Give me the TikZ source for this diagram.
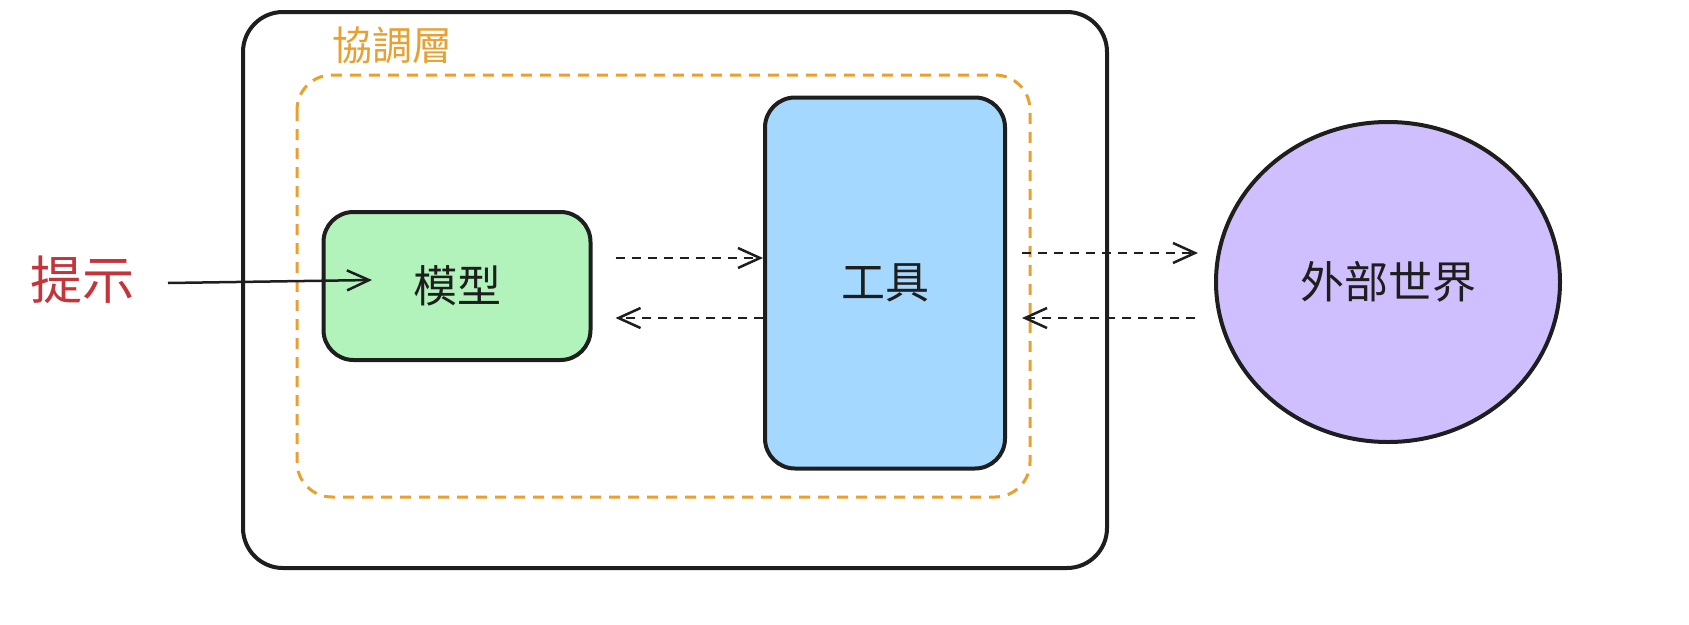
\documentclass[tikz,border=0pt]{standalone}
\usepackage{fontspec}
\newfontfamily\cjk{Noto Sans CJK TC}
\usetikzlibrary{arrows.meta,shapes.geometric}
\definecolor{gfill}{HTML}{B2F2BB}
\definecolor{bfill}{HTML}{A5D8FF}
\definecolor{pfill}{HTML}{D0BFFF}
\definecolor{orng}{HTML}{E8A030}
\definecolor{redt}{HTML}{C4343A}
\definecolor{ink}{HTML}{1E1E1E}
\begin{document}
\begin{tikzpicture}[x=1pt,y=-1pt,
  box/.style={draw=ink,line width=4pt,rounded corners=30pt},
  lab/.style={font=\cjk\fontsize{44}{48}\selectfont,text=ink},
  arr/.style={draw=ink,line width=2.5pt,-{Straight Barb[length=22pt,width=20pt,line width=2.5pt]}},
  darr/.style={arr,dash pattern=on 9pt off 7pt}]
\useasboundingbox (0,0) rectangle (1689,624);
\draw[box,rounded corners=40pt] (243,12) rectangle (1107,568);
\draw[draw=orng,line width=3pt,dash pattern=on 11pt off 8pt,rounded corners=35pt] (297,75) rectangle (1030,497);
\node[text=orng,font=\cjk\fontsize{40}{44}\selectfont] (coord) at (392,45) {協調層};
\node[box,fill=gfill,minimum width=267pt,minimum height=148pt,lab] (model) at (457,286) {模型};
\node[box,fill=bfill,minimum width=240pt,minimum height=371pt,lab] (tool) at (885,283) {工具};
\node[draw=ink,line width=4pt,fill=pfill,ellipse,minimum width=344pt,minimum height=320pt,lab] (world) at (1388,282) {外部世界};
\node[text=redt,font=\cjk\fontsize{52}{56}\selectfont] (prompt) at (82,280) {提示};
\coordinate (ps) at (168,283);
\coordinate (pe) at (372,280);
\draw[arr] (ps) -- (pe);
\draw[darr] (model.east|-0,258) ++(23,0) -- (tool.west|-0,258);
\draw[darr] (tool.west|-0,318) -- ([xshift=23pt]model.east|-0,318);
\draw[darr] ([xshift=15pt]tool.east|-0,253) -- (1198,253);
\draw[darr] (1195,318) -- ([xshift=15pt]tool.east|-0,318);
\end{tikzpicture}
\end{document}
